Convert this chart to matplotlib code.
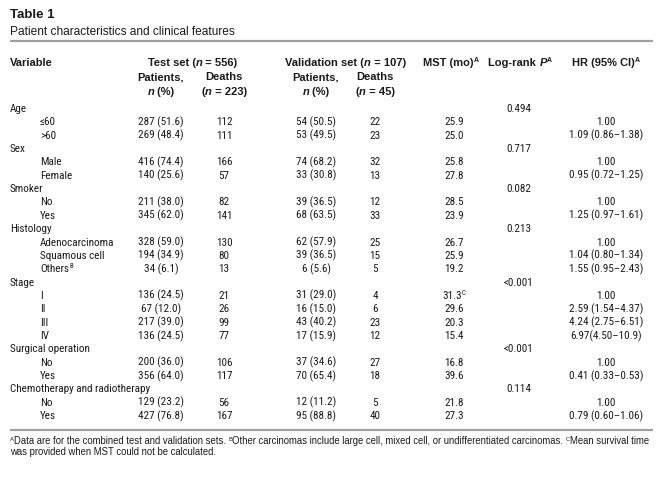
import matplotlib
matplotlib.use("Agg")
import matplotlib.pyplot as plt

NARROW = ['Roboto Condensed', 'Liberation Sans Narrow', 'Roboto', 'DejaVu Sans']
REG = ['Liberation Sans', 'DejaVu Sans']

title = "Table 1"
subtitle = "Patient characteristics and clinical features"

labels = ["Age", "≤60", ">60", "Sex", "Male", "Female", "Smoker", "No", "Yes",
          "Histology", "Adenocarcinoma", "Squamous cell", "Others", "Stage",
          "I", "II", "III", "IV", "Surgical operation", "No", "Yes",
          "Chemotherapy and radiotherapy", "No", "Yes"]
levels = [0, 1, 1, 0, 1, 1, 0, 1, 1, 0, 1, 1, 1, 0, 1, 1, 1, 1, 0, 1, 1, 0, 1, 1]
label_sup = {12: "B"}
test_patients = ["", "287 (51.6)", "269 (48.4)", "", "416 (74.4)", "140 (25.6)", "",
                 "211 (38.0)", "345 (62.0)", "", "328 (59.0)", "194 (34.9)", "34 (6.1)", "",
                 "136 (24.5)", "67 (12.0)", "217 (39.0)", "136 (24.5)", "",
                 "200 (36.0)", "356 (64.0)", "", "129 (23.2)", "427 (76.8)"]
test_deaths = ["", "112", "111", "", "166", "57", "", "82", "141", "", "130", "80", "13", "",
               "21", "26", "99", "77", "", "106", "117", "", "56", "167"]
val_patients = ["", "54 (50.5)", "53 (49.5)", "", "74 (68.2)", "33 (30.8)", "",
                "39 (36.5)", "68 (63.5)", "", "62 (57.9)", "39 (36.5)", "6 (5.6)", "",
                "31 (29.0)", "16 (15.0)", "43 (40.2)", "17 (15.9)", "",
                "37 (34.6)", "70 (65.4)", "", "12 (11.2)", "95 (88.8)"]
val_deaths = ["", "22", "23", "", "32", "13", "", "12", "33", "", "25", "15", "5", "",
              "4", "6", "23", "12", "", "27", "18", "", "5", "40"]
mst = ["", "25.9", "25.0", "", "25.8", "27.8", "", "28.5", "23.9", "", "26.7", "25.9", "19.2", "",
       "31.3", "29.6", "20.3", "15.4", "", "16.8", "39.6", "", "21.8", "27.3"]
mst_sup = {14: "C"}
logrank_p = ["0.494", "", "", "0.717", "", "", "0.082", "", "", "0.213", "", "", "", "<0.001",
             "", "", "", "", "<0.001", "", "", "0.114", "", ""]
hr = ["", "1.00", "1.09 (0.86–1.38)", "", "1.00", "0.95 (0.72–1.25)", "", "1.00",
      "1.25 (0.97–1.61)", "", "1.00", "1.04 (0.80–1.34)", "1.55 (0.95–2.43)", "",
      "1.00", "2.59 (1.54–4.37)", "4.24 (2.75–6.51)", "6.97(4.50–10.9)", "",
      "1.00", "0.41 (0.33–0.53)", "", "1.00", "0.79 (0.60–1.06)"]
footnote1 = [("A", "s"), ("Data are for the combined test and validation sets. ", "n"),
             ("B", "s"), ("Other carcinomas include large cell, mixed cell, or undifferentiated carcinomas. ", "n"),
             ("C", "s"), ("Mean survival time", "n")]
footnote2 = "was provided when MST could not be calculated."

W, H = 667, 498
fig = plt.figure(figsize=(W / 100, H / 100), dpi=100)
ax = fig.add_axes([0, 0, 1, 1])
ax.set_xlim(0, W)
ax.set_ylim(H, 0)
ax.axis('off')
fig.canvas.draw()
renderer = fig.canvas.get_renderer()

TXT = '#1a1a1a'
BODY = 8.0


def width_of(t):
    return t.get_window_extent(renderer=renderer).width


def rich(x, y, parts, ha='left', size=BODY, weight='normal', family=NARROW, cap=0.36):
    """y is the visual centre of the capitals; parts: (text, kind) kind n/i/s"""
    base = y + size * 1.389 * cap
    objs = []
    for s, k in parts:
        if k == 's':
            t = ax.text(0, base - size * 0.55, s, fontsize=size * 0.62, family=family,
                        weight=weight, color=TXT, va='baseline', ha='left')
        else:
            t = ax.text(0, base, s, fontsize=size, family=family, weight=weight,
                        style='italic' if k == 'i' else 'normal', color=TXT,
                        va='baseline', ha='left')
        objs.append(t)
    ws = [width_of(t) for t in objs]
    total = sum(ws)
    if ha == 'center':
        cx = x - total / 2
    elif ha == 'right':
        cx = x - total
    else:
        cx = x
    for t, w in zip(objs, ws):
        t.set_x(cx)
        cx += w


# Title
rich(10, 13, [(title, 'n')], size=9.5, weight='bold', family=REG)
rich(10, 31, [(subtitle, 'n')], size=8.6, family=REG)
ax.plot([10, 653], [40.5, 40.5], color='#a0a0a0', lw=1.6, solid_capstyle='butt')

# Column centres
X_LABEL, X_SUB = 10, 40
X_TP, X_TD, X_VP, X_VD, X_MST, X_P, X_HR = 161, 224, 316, 375, 454, 519, 606

hy1, hy2, hy3 = 62, 76, 91
HF = REG
rich(X_LABEL, hy1, [("Variable", 'n')], weight='bold', family=HF)
rich((X_TP + X_TD) / 2, hy1, [("Test set (", 'n'), ("n", 'i'), (" = 556)", 'n')], ha='center', weight='bold', family=HF)
rich((X_VP + X_VD) / 2, hy1, [("Validation set (", 'n'), ("n", 'i'), (" = 107)", 'n')], ha='center', weight='bold', family=HF)
rich(X_MST - 3, hy1, [("MST (mo)", 'n'), ("A", 's')], ha='center', weight='bold', family=HF)
rich(X_P + 1, hy1, [("Log-rank ", 'n'), ("P", 'i'), ("A", 's')], ha='center', weight='bold', family=HF)
rich(X_HR, hy1, [("HR (95% CI)", 'n'), ("A", 's')], ha='center', weight='bold', family=HF)
for xc in (X_TP, X_VP):
    rich(xc, hy2, [("Patients,", 'n')], ha='center', weight='bold', family=HF)
    rich(xc, hy3, [("n", 'i'), (" (%)", 'n')], ha='center', weight='bold', family=HF)
rich(X_TD, hy2, [("Deaths", 'n')], ha='center', weight='bold', family=HF)
rich(X_TD, hy3, [("(", 'n'), ("n", 'i'), (" = 223)", 'n')], ha='center', weight='bold', family=HF)
rich(X_VD, hy2, [("Deaths", 'n')], ha='center', weight='bold', family=HF)
rich(X_VD, hy3, [("(", 'n'), ("n", 'i'), (" = 45)", 'n')], ha='center', weight='bold', family=HF)

# Body
y0, step = 108, 13.35
for i, lab in enumerate(labels):
    y = y0 + i * step
    parts = [(lab, 'n')]
    if i in label_sup:
        parts.append((label_sup[i], 's'))
    rich(X_SUB if levels[i] else X_LABEL, y, parts)
    for xc, col in ((X_TP, test_patients), (X_TD, test_deaths), (X_VP, val_patients),
                    (X_VD, val_deaths), (X_P, logrank_p), (X_HR, hr)):
        if col[i]:
            rich(xc, y, [(col[i], 'n')], ha='center')
    if mst[i]:
        p = [(mst[i], 'n')]
        if i in mst_sup:
            p.append((mst_sup[i], 's'))
        rich(X_MST, y, p, ha='center')

ybot = y0 + (len(labels) - 1) * step + 15
ax.plot([10, 653], [ybot, ybot], color='#a0a0a0', lw=1.6, solid_capstyle='butt')

rich(10, ybot + 11, footnote1, size=6.85, family=REG)
rich(10, ybot + 22, [(footnote2, 'n')], size=6.85, family=REG)

fig.savefig("out.png", dpi=100)
